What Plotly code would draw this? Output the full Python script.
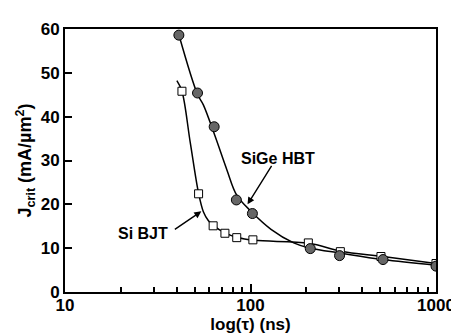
import plotly.graph_objects as go

# Measured points
sige_x = [41.1, 51.8, 63.7, 83.9, 102.4, 210, 302, 518, 1000]
sige_y = [58.6, 45.4, 37.7, 21.0, 17.9, 9.9, 8.3, 7.4, 5.9]
si_x = [42.7, 52.5, 62.9, 72.8, 84.3, 103, 205, 305, 505, 1000]
si_y = [45.8, 22.4, 15.1, 13.4, 12.4, 11.9, 11.2, 9.2, 8.1, 6.5]

# Fitted curves
sige_fit_x = [41.1, 51.8, 55.7, 64.6, 74.7, 84.3, 101.2, 129, 171, 205, 314, 518, 1000]
sige_fit_y = [58.7, 45.1, 42.7, 35.4, 27.8, 22.1, 18.3, 14.3, 11.2, 10.1, 8.8, 7.4, 6.1]
si_fit_x = [40.1, 42.7, 47.3, 52.5, 55.7, 59.2, 62.9, 72.8, 84.3, 105, 207, 307, 518, 1000]
si_fit_y = [48.2, 45.8, 34.2, 22.5, 18.3, 16.3, 15.2, 13.5, 12.5, 11.8, 11.1, 9.3, 8.1, 6.5]

x_major = [10, 100, 1000]
x_minor = [20, 30, 40, 50, 60, 70, 80, 90, 200, 300, 400, 500, 600, 700, 800, 900]
y_ticks = [0, 10, 20, 30, 40, 50, 60]

FONT = "Liberation Sans"

fig = go.Figure()
for fx, fy in ((si_fit_x, si_fit_y), (sige_fit_x, sige_fit_y)):
    fig.add_trace(go.Scatter(x=fx, y=fy, mode="lines",
                             line=dict(color="black", width=1.5, shape="spline", smoothing=1.0),
                             hoverinfo="skip", showlegend=False))
fig.add_trace(go.Scatter(x=si_x, y=si_y, mode="markers", name="Si BJT",
                         marker=dict(symbol="square", size=8, color="white",
                                     line=dict(color="black", width=1)),
                         showlegend=False))
fig.add_trace(go.Scatter(x=sige_x, y=sige_y, mode="markers", name="SiGe HBT",
                         marker=dict(symbol="circle", size=10, color="#666666",
                                     line=dict(color="black", width=1)),
                         showlegend=False))

annots = [
    dict(x=2.148, y=30.4, xref="x", yref="y", text="<b>SiGe HBT</b>", showarrow=False,
         font=dict(family=FONT, size=16, color="black")),
    dict(x=1.984, y=20.0, xref="x", yref="y", text="", showarrow=True,
         ax=25, ay=-40, arrowhead=2, arrowsize=1, arrowwidth=1.4, arrowcolor="black"),
    dict(x=1.418, y=13.3, xref="x", yref="y", text="<b>Si BJT</b>", showarrow=False,
         font=dict(family=FONT, size=16, color="black")),
    dict(x=1.735, y=18.4, xref="x", yref="y", text="", showarrow=True,
         ax=-28, ay=19, arrowhead=2, arrowsize=1, arrowwidth=1.4, arrowcolor="black"),
]

fig.update_layout(
    width=459, height=336,
    margin=dict(l=57, r=24, t=12, b=52),
    paper_bgcolor="white", plot_bgcolor="white",
    font=dict(family=FONT, size=17, color="black"),
    annotations=annots,
    xaxis=dict(
        type="log", range=[1, 3],
        tickmode="array", tickvals=x_major, ticktext=[str(v) for v in x_major],
        ticks="inside", ticklen=8, tickwidth=1.5, tickcolor="black",
        minor=dict(tickmode="array", tickvals=x_minor, ticks="inside", ticklen=5,
                   tickwidth=1.5, tickcolor="black", showgrid=False),
        showline=True, linecolor="black", linewidth=2, mirror=True,
        showgrid=False, zeroline=False, ticklabelstandoff=-3,
        tickfont=dict(family=FONT, size=17, weight="bold"),
        title=dict(text="<b>log(τ) (ns)</b>", font=dict(family=FONT, size=17), standoff=2),
    ),
    yaxis=dict(
        range=[0, 60],
        tickmode="array", tickvals=y_ticks,
        ticks="inside", ticklen=7, tickwidth=1.5, tickcolor="black",
        showline=True, linecolor="black", linewidth=2, mirror=True,
        showgrid=False, zeroline=False,
        tickfont=dict(family=FONT, size=17, weight="bold"),
        title=dict(text="<b>J<sub>crit</sub> (mA/µm<sup>2</sup>)</b>",
                   font=dict(family=FONT, size=18), standoff=4),
    ),
)

fig.write_html("out.html")
